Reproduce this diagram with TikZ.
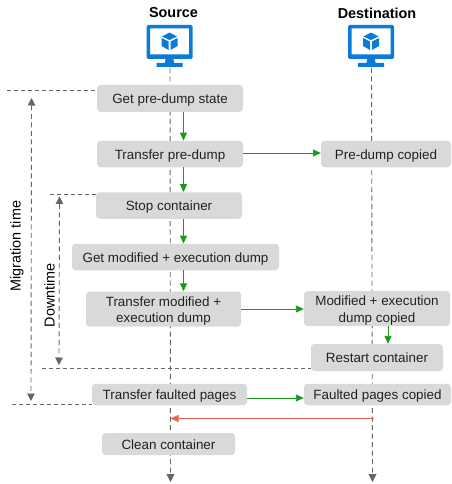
\documentclass[tikz,border=0pt]{standalone}
\usepackage{fontspec}
\setmainfont{Liberation Sans}
\usetikzlibrary{arrows.meta}
\definecolor{boxgray}{HTML}{D9D9D9}
\definecolor{txt}{HTML}{222222}
\definecolor{linegray}{HTML}{666666}
\definecolor{flowgreen}{HTML}{179A17}
\definecolor{flowred}{HTML}{E8654E}
\definecolor{iconblue}{HTML}{0A7BD8}
\newcommand{\dropstrut}{\rule{0pt}{14pt}}
\tikzset{
  stepbox/.style={fill=boxgray,rounded corners=3.5pt,inner sep=0pt,align=center,text=txt,
    font=\fontsize{13.4}{16.5}\selectfont},
  oneline/.style={stepbox,text height=10pt,text depth=0pt},
  head/.style={font=\bfseries\fontsize{14.4}{17}\selectfont,text=black,inner sep=0pt},
  sidelabel/.style={font=\fontsize{14.4}{17}\selectfont,text=black,rotate=90,inner sep=0pt},
  lifeline/.style={draw=linegray,line width=.9pt,dash pattern=on 5pt off 3.5pt,-{Triangle[length=8pt,width=8pt,fill=linegray]}},
  span/.style={draw=linegray,line width=.9pt,dash pattern=on 5pt off 3.5pt,{Triangle[length=7.5pt,width=7.5pt,fill=linegray]}-{Triangle[length=7.5pt,width=7.5pt,fill=linegray]}},
  guide/.style={draw=linegray,line width=.8pt,dash pattern=on 4pt off 3pt},
  flow/.style={draw=flowgreen,line width=.9pt,-{Triangle[length=8pt,width=7pt,fill=flowgreen]}},
  back/.style={draw=flowred,line width=.9pt,-{Triangle[length=8pt,width=7pt,fill=flowred]}},
  pics/monitor/.style={code={
    \fill[iconblue,rounded corners=1.5pt,even odd rule] (-23,-17) rectangle (23,17)
      [sharp corners] (-19.5,-13.5) rectangle (19.5,12.5);
    \fill[iconblue] (-4,17) -- (4,17) -- (4.5,21) -- (13,21) -- (13,25) -- (-13,25) -- (-13,21) -- (-4.5,21) -- cycle;
    \fill[iconblue] (0,-9.5) -- (-7.5,-5.5) -- (0,-2) -- (7.5,-5.5) -- cycle;
    \fill[iconblue] (-8,-4) -- (-1,-.5) -- (-1,8) -- (-8,4) -- cycle;
    \fill[iconblue] (8,-4) -- (1,-.5) -- (1,8) -- (8,4) -- cycle;
  }}
}
\begin{document}
\begin{tikzpicture}[x=1pt,y=-1pt]
\useasboundingbox (0,0) rectangle (451,484);
\node[head] (srchead) at (173.5,13) {Source};
\node[head] (dsthead) at (377,13) {Destination};
\coordinate (srcicon) at (169.5,42);
\coordinate (dsticon) at (371,42);
\coordinate (srcend) at (170.5,482);
\coordinate (dstend) at (372.5,482);
\coordinate (gs) at (183.5,0);
\coordinate (gd) at (388,0);
\draw[lifeline] (170,68) -- (srcend);
\draw[lifeline] (371.5,68) -- (dstend);
\pic at (srcicon) {monitor};
\pic at (dsticon) {monitor};
\coordinate (g1) at (7,90);
\coordinate (g2) at (50,194);
\coordinate (g3) at (42,368.5);
\coordinate (g4) at (12,404);
\node[oneline,minimum width=146pt,minimum height=27pt] (predump) at (170,98.5) {Get pre-dump state};
\node[oneline,minimum width=146pt,minimum height=26.5pt] (transfer) at (170,154) {Transfer pre-dump};
\node[oneline,minimum width=146pt,minimum height=26.5pt] (stop) at (169,205.5) {Stop container};
\node[oneline,minimum width=207pt,minimum height=26.5pt] (getmod) at (175.5,257) {Get modified + execution dump};
\node[stepbox,minimum width=155pt,minimum height=35pt] (transmod) at (163.5,309) {\dropstrut Transfer modified +\\execution dump};
\node[oneline,minimum width=130pt,minimum height=26.5pt] (precopied) at (386,154) {Pre-dump copied};
\node[stepbox,minimum width=146pt,minimum height=35pt] (modcopied) at (377,308.5) {\dropstrut Modified + execution\\dump copied};
\node[oneline,minimum width=132pt,minimum height=27pt] (restart) at (377,357.5) {Restart container};
\node[oneline,minimum width=155pt,minimum height=21.5pt] (faulted) at (169.5,394.5) {Transfer faulted pages};
\node[oneline,minimum width=147pt,minimum height=21.5pt] (faultcopied) at (377.5,394.5) {Faulted pages copied};
\node[oneline,minimum width=133pt,minimum height=22pt] (clean) at (168.5,444) {Clean container};
\draw[guide] (g1) -- (predump.west |- g1);
\draw[guide] (g2) -- (stop.west |- g2);
\draw[guide] (g3) -- (restart.west |- g3);
\draw[guide] (g4) -- (faulted.west |- g4);
\draw[span] (31.5,98) -- (31,401);
\draw[span] (59.5,196.5) -- (59,365);
\node[sidelabel] (migr) at (17,246) {Migration time};
\node[sidelabel] (down) at (49.5,295) {Downtime};
\draw[flow] (predump.south -| gs) -- (transfer.north -| gs);
\draw[flow] (transfer.south -| gs) -- (stop.north -| gs);
\draw[flow] (stop.south -| gs) -- (getmod.north -| gs);
\draw[flow] (getmod.south -| gs) -- (transmod.north -| gs);
\draw[flow] (modcopied.south -| gd) -- (restart.north -| gd);
\draw[flow] (transfer.east) ++(0,-1) coordinate (ta) -- (precopied.west |- ta);
\draw[flow] (transmod.east) -- (modcopied.west |- transmod.east);
\draw[flow] (faulted.east) ++(0,3.5) coordinate (fa) -- (faultcopied.west |- fa);
\coordinate (r1) at (374,418.5);
\coordinate (r2) at (170.5,418.5);
\draw[back] (r1) -- (r2);
\end{tikzpicture}
\end{document}
